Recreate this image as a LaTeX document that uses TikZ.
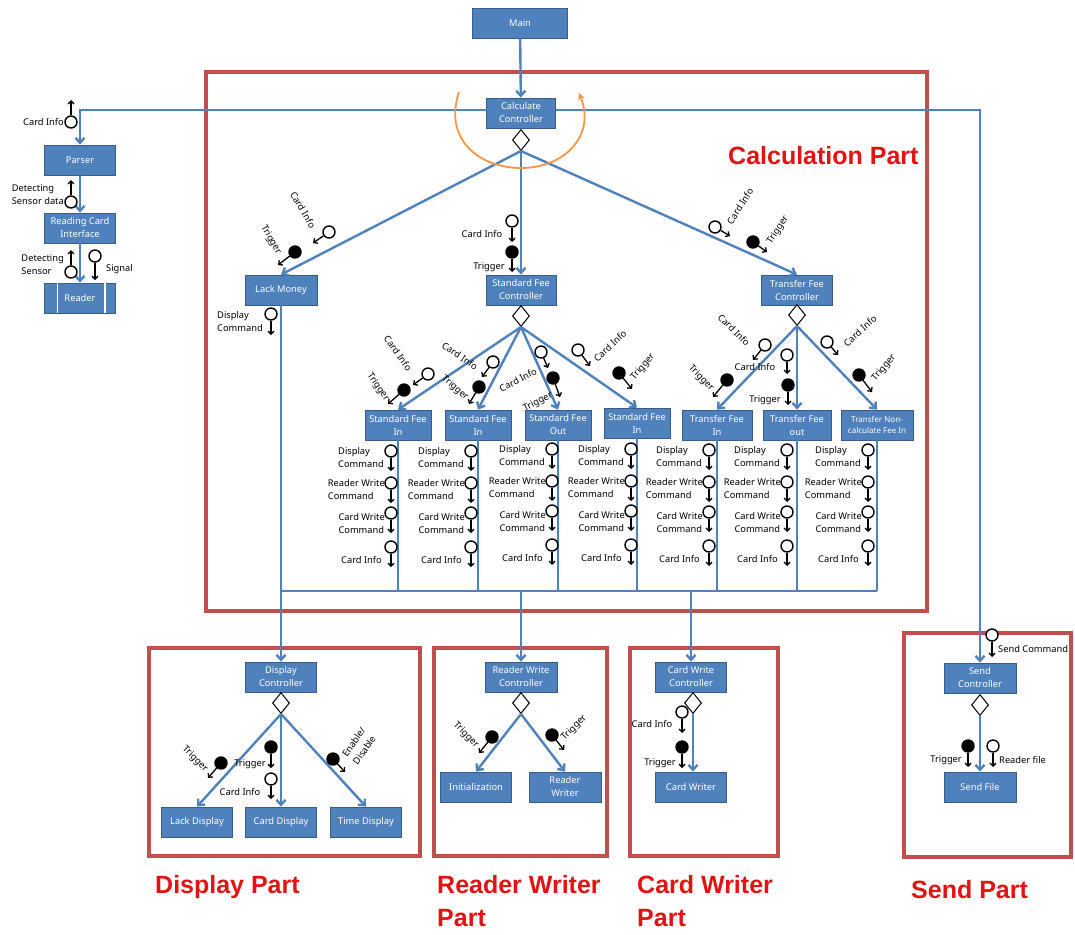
\documentclass[tikz,border=0pt]{standalone}
\usepackage{fontspec}
\setmainfont{Noto Sans}
\newfontfamily\partfont{Liberation Sans}
\usetikzlibrary{arrows.meta,shapes.geometric}

\definecolor{boxfill}{HTML}{4F81BD}
\definecolor{boxline}{HTML}{385D8A}
\definecolor{linkblue}{HTML}{4F81BD}
\definecolor{framered}{HTML}{C0504D}
\definecolor{swirl}{HTML}{F79646}
\definecolor{parttxt}{RGB}{228,18,18}

\tikzset{
  box/.style={draw=boxline, fill=boxfill, line width=0.8pt, text=white,
    font=\fontsize{9.3}{13}\selectfont, align=center,
    minimum width=71pt, minimum height=30pt, inner sep=1pt},
  choice/.style={diamond, draw=black, fill=white, line width=1pt,
    minimum width=17pt, minimum height=21pt, inner sep=0pt},
  link/.style={draw=linkblue, line width=2.4pt, -{Straight Barb[length=5pt,width=9pt]}},
  wire/.style={draw=linkblue, line width=2.4pt},
  partframe/.style={draw=framered, line width=3.5pt},
  ballO/.style={circle, draw=black, fill=white, line width=1.4pt, minimum size=12pt, inner sep=0pt},
  ballF/.style={ballO, fill=black},
  stub/.style={draw=black, line width=1.3pt, -{Straight Barb[length=3pt,width=6pt]}},
  lbl/.style={font=\fontsize{9.3}{13}\selectfont, inner sep=0pt, align=left},
  partlbl/.style={font=\partfont\fontsize{25}{33}\selectfont\bfseries, text=parttxt,
    inner sep=0pt, align=left, anchor=west},
}

% ball-and-stick interface: name, centre, style, arrow offset
\newcommand\flowsock[4]{\node[#3] (#1) at (#2) {}; \draw[stub] (#1) -- ++(#4);}

% the four outgoing commands under each fee box
\newcommand\cmdcolumn[3]{%
  \flowsock{#1a}{#2,#3}{ballO}{0,20}
  \flowsock{#1b}{#2,#3+32}{ballO}{0,20}
  \flowsock{#1c}{#2,#3+62}{ballO}{0,20}
  \flowsock{#1d}{#2,#3+96}{ballO}{0,20}
  \node[lbl,anchor=east] (#1at) at (#2-7,#3+6.5) {Display\\Command};
  \node[lbl,anchor=east] (#1bt) at (#2-6,#3+39) {Reader Write\\Command};
  \node[lbl,anchor=east] (#1ct) at (#2-6,#3+73) {Card Write\\Command};
  \node[lbl,anchor=east] (#1dt) at (#2-9,#3+109) {Card Info};
}

\begin{document}
\begin{tikzpicture}[x=1pt,y=-1pt]
\useasboundingbox (0,0) rectangle (1075,934);

% ---------- part frames ----------
\draw[partframe] (206,72) rectangle (927,611);
\draw[partframe] (149,648) rectangle (420,856);
\draw[partframe] (434,648) rectangle (607,856);
\draw[partframe] (630,648) rectangle (778,856);
\draw[partframe] (904,633) rectangle (1071,857);

\node[partlbl] (calcpart) at (728,156) {Calculation Part};
\node[partlbl] (disppart) at (155,887) {Display Part};
\node[partlbl] (rwpart) at (437,901) {Reader Writer\\Part};
\node[partlbl] (cwpart) at (637,901) {Card Writer\\Part};
\node[partlbl] (sendpart) at (911,890) {Send Part};

% ---------- boxes ----------
\node[box, minimum width=95pt] (main) at (520,23) {Main};
\node[box, minimum width=69pt] (calc) at (521,113) {Calculate\\Controller};
\node[choice] (dcalc) at (521,140) {};

\node[box] (parser) at (80,160) {Parser};
\node[box] (rci) at (80,228) {Reading Card\\Interface};
\node[box] (reader) at (80,298) {Reader};
\draw[white, line width=1.2pt] ([xshift=13pt]reader.north west) -- ([xshift=13pt]reader.south west);
\draw[white, line width=1.2pt] ([xshift=-11pt]reader.north east) -- ([xshift=-11pt]reader.south east);

\node[box, minimum width=72pt] (lackm) at (281,290) {Lack Money};
\node[box, minimum width=70pt] (sfc) at (521,290) {Standard Fee\\Controller};
\node[box] (tfc) at (797,290) {Transfer Fee\\Controller};
\node[choice] (dsf) at (521,316) {};
\node[choice] (dtf) at (797,315) {};

\node[box, minimum width=66pt] (sf1) at (398,425) {Standard Fee\\In};
\node[box, minimum width=66pt] (sf2) at (478,425) {Standard Fee\\In};
\node[box, minimum width=66pt] (sf3) at (558,425) {Standard Fee\\Out};
\node[box, minimum width=66pt] (sf4) at (637,423) {Standard Fee\\In};
\node[box, minimum width=70pt] (tf1) at (717,425) {Transfer Fee\\In};
\node[box, minimum width=68pt] (tf2) at (797,425) {Transfer Fee\\out};
\node[box, minimum width=72pt, font=\fontsize{8}{10.5}\selectfont] (tf3) at (877,425) {Transfer Non-\\calculate Fee In};

\node[box] (dispc) at (281,677) {Display\\Controller};
\node[choice] (ddisp) at (281,703) {};
\node[box] (lackd) at (197,822) {Lack Display};
\node[box] (cardd) at (281,822) {Card Display};
\node[box] (timed) at (366,822) {Time Display};

\node[box, minimum width=72pt] (rwc) at (521,677) {Reader Write\\Controller};
\node[choice] (drw) at (521,703) {};
\node[box] (init) at (476,787) {Initialization};
\node[box, minimum width=72pt] (rwr) at (565,787) {Reader\\Writer};

\node[box] (cwc) at (691,677) {Card Write\\Controller};
\node[choice] (dcw) at (693,703) {};
\node[box] (cwr) at (691,787) {Card Writer};

\node[box, minimum width=72pt] (sendc) at (980,678) {Send\\Controller};
\node[choice] (dsend) at (980,705) {};
\node[box, minimum width=72pt] (sendf) at (980,787) {Send File};

% ---------- connectors ----------
\coordinate (hl) at (487,110);
\coordinate (hr) at (556,110);
\draw[link] (main) -- (calc);
\draw[link] (hl) -| (parser);
\draw[link] (hr) -| (sendc);
\draw[link] (parser) -- (rci);
\draw[link] (rci) -- (reader);

\draw[link] (dcalc.south) -- (lackm.north);
\draw[link] (dcalc.south) -- (sfc.north);
\draw[link] (dcalc.south) -- (tfc.north);

\foreach \b in {sf1,sf2,sf3,sf4} \draw[link] (dsf.south) -- (\b.north);
\foreach \b in {tf1,tf2,tf3} \draw[link] (dtf.south) -- (\b.north);

\coordinate (busL) at (281,591);
\coordinate (busR) at (877,591);
\coordinate (busRW) at (521,591);
\coordinate (busCW) at (691,591);
\draw[wire] (busL) -- (busR);
\foreach \b in {sf1,sf2,sf3,sf4,tf1,tf2,tf3} \draw[wire] (\b.south) -- (\b.south |- busL);
\draw[link] (lackm) -- (dispc);
\draw[link] (busRW) -- (rwc);
\draw[link] (busCW) -- (cwc);

\draw[link] (ddisp.south) -- (lackd.north);
\draw[link] (ddisp.south) -- (cardd.north);
\draw[link] (ddisp.south) -- (timed.north);
\draw[link] (drw.south) -- (init.north);
\draw[link] (drw.south) -- (rwr.north);
\draw[link] (dcw.south) -- (dcw.south |- cwr.north);
\draw[link] (dsend) -- (sendf);

% loop around the calculate controller
\draw[swirl, line width=1.8pt, -{Stealth[length=7pt,width=7pt]}]
  (459,92) .. controls (443,140) and (480,168) .. (521,168)
  .. controls (565,168) and (596,135) .. (579,93);

% ---------- interfaces: reader side ----------
\flowsock{pci}{71,122}{ballO}{0,-22}
\node[lbl, anchor=east] (pcit) at (64,122) {Card Info};
\flowsock{rsd}{71,202}{ballO}{0,-22}
\node[lbl, anchor=east] (rsdt) at (64,195) {Detecting\\Sensor data};
\flowsock{rds}{71,272}{ballO}{0,-22}
\node[lbl, anchor=east] (rdst) at (64,265) {Detecting\\Sensor};
\flowsock{rsig}{95,256}{ballO}{0,24}
\node[lbl, anchor=west] (rsigt) at (106,269) {Signal};

% ---------- interfaces: calculate controller fan ----------
\node[lbl, rotate=-60] (lmcit) at (303,210) {Card Info};
\flowsock{lmci}{329,232}{ballO}{-16,11}
\node[lbl, rotate=-60] (lmtrt) at (271,240) {Trigger};
\flowsock{lmtr}{295,252}{ballF}{-17,13}
\flowsock{lmdc}{271,314}{ballO}{0,21}
\node[lbl, anchor=east] (lmdct) at (263,322) {Display\\Command};

\flowsock{sfci}{512,221}{ballO}{0,21}
\node[lbl] (sfcit) at (482,234) {Card Info};
\flowsock{sftr}{512,252}{ballF}{0,20}
\node[lbl] (sftrt) at (489,267) {Trigger};

\node[lbl, rotate=58] (tfcit) at (740,206) {Card Info};
\flowsock{tfci}{715,227}{ballO}{15,9}
\flowsock{tftr}{753,242}{ballF}{14,10}
\node[lbl, rotate=57] (tftrt) at (778,230) {Trigger};

% ---------- interfaces: standard fee fan ----------
\node[lbl, rotate=-55] (s1cit) at (398,353) {Card Info};
\flowsock{s1ci}{428,374}{ballO}{-15,11}
\node[lbl, rotate=-55] (s1trt) at (378,387) {Trigger};
\flowsock{s1tr}{404,390}{ballF}{-16,14}

\node[lbl, rotate=-34] (s2cit) at (460,356) {Card Info};
\flowsock{s2ci}{493,362}{ballO}{-11,15}
\node[lbl, rotate=-40] (s2trt) at (455,388) {Trigger};
\flowsock{s2tr}{479,387}{ballF}{-10,17}

\flowsock{s3ci}{541,352}{ballO}{7,16}
\flowsock{s3tr}{553,378}{ballF}{7,19}
\node[lbl, rotate=28] (s3cit) at (518,380) {Card Info};
\node[lbl, rotate=27] (s3trt) at (538,402) {Trigger};

\flowsock{s4ci}{578,350}{ballO}{12,16}
\node[lbl, rotate=43] (s4cit) at (610,346) {Card Info};
\flowsock{s4tr}{619,373}{ballF}{13,16}
\node[lbl, rotate=50] (s4trt) at (643,367) {Trigger};

% ---------- interfaces: transfer fee fan ----------
\node[lbl, rotate=-45] (t1cit) at (734,330) {Card Info};
\flowsock{t1ci}{765,345}{ballO}{-12,15}
\node[lbl, rotate=-45] (t1trt) at (701,378) {Trigger};
\flowsock{t1tr}{727,380}{ballF}{-14,17}

\flowsock{t2ci}{787,355}{ballO}{0,19}
\node[lbl] (t2cit) at (755,367) {Card Info};
\flowsock{t2tr}{788,385}{ballF}{0,20}
\node[lbl] (t2trt) at (765,400) {Trigger};

\flowsock{t3ci}{827,342}{ballO}{11,13}
\node[lbl, rotate=42] (t3cit) at (860,331) {Card Info};
\flowsock{t3tr}{859,375}{ballF}{13,17}
\node[lbl, rotate=50] (t3trt) at (884,368) {Trigger};

% ---------- commands under each fee box ----------
\cmdcolumn{ka}{391}{451}
\cmdcolumn{kb}{471}{451}
\cmdcolumn{kc}{552}{449}
\cmdcolumn{kd}{631}{449}
\cmdcolumn{ke}{709}{450}
\cmdcolumn{kf}{787}{450}
\cmdcolumn{kg}{868}{450}

% ---------- display part ----------
\node[lbl, rotate=-45] (dltrt) at (195,759) {Trigger};
\flowsock{dltr}{221,763}{ballF}{-13,15}
\flowsock{dctr}{271,747}{ballF}{0,21}
\node[lbl] (dctrt) at (250,764) {Trigger};
\flowsock{dcci}{271,779}{ballO}{0,20}
\node[lbl] (dccit) at (240,792) {Card Info};
\flowsock{dten}{333,759}{ballF}{12,13}
\node[lbl, rotate=55, align=left] (dtent) at (359,746) {Enable/\\Disable};

% ---------- reader writer part ----------
\node[lbl, rotate=-45] (ritrt) at (466,735) {Trigger};
\flowsock{ritr}{492,737}{ballF}{-13,16}
\flowsock{rwtr}{552,735}{ballF}{12,15}
\node[lbl, rotate=45] (rwtrt) at (574,728) {Trigger};

% ---------- card writer part ----------
\flowsock{cwci}{682,712}{ballO}{0,21}
\node[lbl] (cwcit) at (652,724) {Card Info};
\flowsock{cwtr}{682,747}{ballF}{0,21}
\node[lbl] (cwtrt) at (660,763) {Trigger};

% ---------- send part ----------
\flowsock{scmd}{992,635}{ballO}{0,22}
\node[lbl, anchor=west] (scmdt) at (998,649) {Send Command};
\flowsock{sftrg}{968,746}{ballF}{0,21}
\node[lbl, anchor=east] (sftrgt) at (962,760) {Trigger};
\flowsock{srf}{993,746}{ballO}{0,21}
\node[lbl, anchor=west] (srft) at (999,760) {Reader file};

\end{tikzpicture}
\end{document}
